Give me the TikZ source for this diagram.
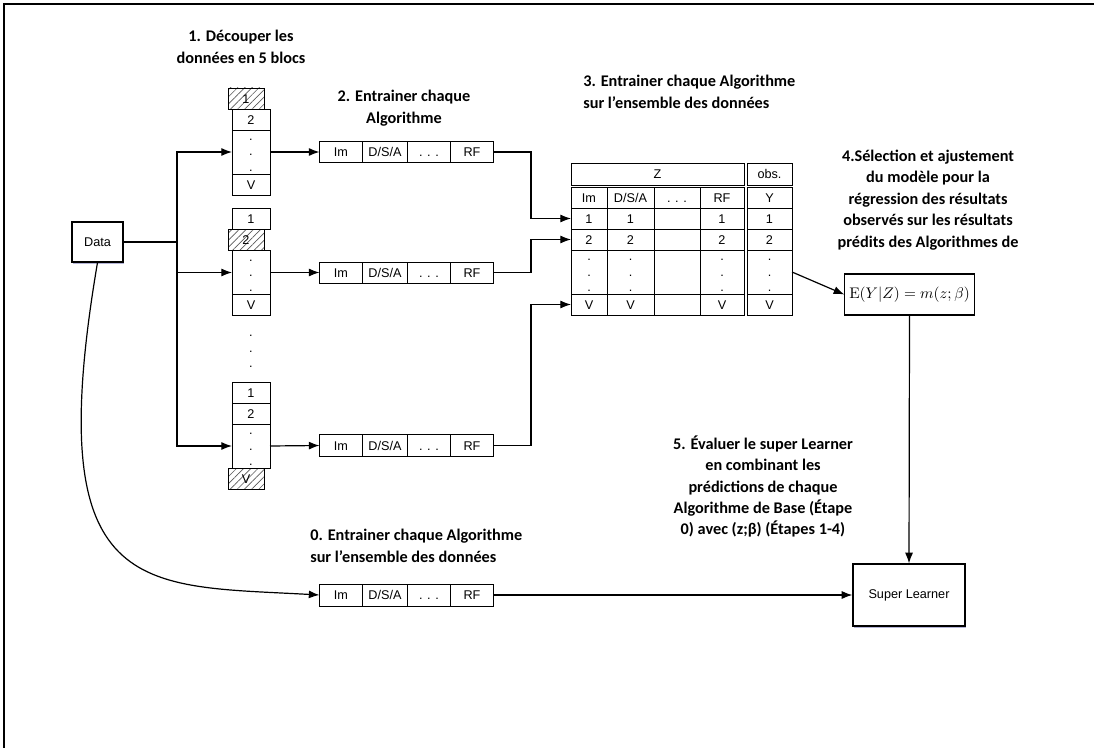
\RequirePackage{fix-cm}
\documentclass[tikz,border=0pt]{standalone}
\usepackage[no-math]{fontspec}
\setmainfont{Carlito}
\newfontfamily\helv{Liberation Sans}
\usetikzlibrary{arrows.meta,positioning,patterns.meta,shadows}

\newcommand\pxu{0.75pt}
\newcommand\cellfont{\helv\fontsize{9.5}{11.4}\selectfont}
\newcommand\vpts{.\\.\\.}

\tikzset{
  cell/.style={draw, line width=0.7pt, inner sep=0pt, outer sep=0pt,
    minimum height=21*\pxu, font=\cellfont, text height=6.8pt, text depth=0pt},
  dotcell/.style={cell, minimum height=44*\pxu, align=center, text height=28.8pt},
  blkplain/.style={cell, minimum width=38*\pxu},
  blkhatch/.style={cell, minimum width=36*\pxu, xshift=-5*\pxu,
    pattern={Lines[angle=45,distance=3.8pt,line width=0.5pt]}, pattern color=black!65},
  step label/.style={font=\bfseries\fontsize{12.2}{16.1}\selectfont, align=center, inner sep=0pt},
  mainbox/.style={draw, line width=0.9pt, fill=white, font=\cellfont,
    drop shadow={shadow xshift=0.6pt, shadow yshift=-1.2pt, opacity=0.45, fill=blue!30!gray}},
  link/.style={line width=0.9pt}
}

\begin{document}
\begin{tikzpicture}[>={Latex[length=8pt,width=6pt]}, x=\pxu, y=-\pxu]
  \useasboundingbox (0,0) rectangle (1094,748);
  % Cadre
  \draw[line width=1.5pt] (4,748) -- (4,4) -- (1094,4);
  % Etiquettes des etapes
  \node[step label] (lbl1) at (241,47) {1. Découper les\\données en 5 blocs};
  \node[step label] (lbl2) at (404,108) {2. Entrainer chaque\\Algorithme};
  \node[step label, anchor=west, align=left] (lbl3) at (583,92) {3. Entrainer chaque Algorithme\\sur l’ensemble des données};
  \node[step label] (lbl4) at (928,200) {4.Sélection et ajustement\\du modèle pour la\\régression des résultats\\observés sur les résultats\\prédits des Algorithmes de};
  \node[step label] (lbl5) at (763,486.5) {5. Évaluer le super Learner\\en combinant les\\prédictions de chaque\\Algorithme de Base (Étape\\0) avec (z;β) (Étapes 1-4)};
  \node[step label, anchor=west, align=left] (lbl0) at (310,546) {0. Entrainer chaque Algorithme\\sur l’ensemble des données};
  % Data et Super Learner
  \node[mainbox, minimum width=51*\pxu, minimum height=40*\pxu] (data) at (97.5,242) {Data};
  \node[mainbox, minimum width=112*\pxu, minimum height=62*\pxu] (sl) at (909,595) {Super Learner};
  \node[draw, line width=0.8pt, minimum width=125*\pxu, minimum height=41*\pxu,
    font=\fontsize{11.5}{14}\selectfont] (formula) at (909.5,294.5) {$\mathrm{E}(Y|Z) = m(z;\beta)$};
  % Blocs de donnees
  \foreach \n/\y/\sa/\sb/\sv in {1/152/blkhatch/blkplain/blkplain,
      2/272.5/blkplain/blkhatch/blkplain, 3/446/blkplain/blkplain/blkhatch} {
    \node[\sa] (s\n-1) at (251,\y-53.5) {1};
    \node[\sb] (s\n-2) at (251,\y-32.5) {2};
    \node[blkplain, dotcell] (s\n-d) at (251,\y) {\vpts};
    \node[\sv] (s\n-v) at (251,\y+32.5) {V};
  }
  \node[font=\cellfont, align=center, text height=28.8pt, text depth=0pt, inner sep=0pt] (vdots) at (251,348) {\vpts};
  % Algorithmes
  \foreach \n/\y/\h in {1/152/21, 2/272.5/21, 3/445.5/22, 0/595/22} {
    \node[cell, minimum height=\h*\pxu, minimum width=43*\pxu, anchor=west] (a\n-im) at (319.5,\y) {Im};
    \node[cell, minimum height=\h*\pxu, minimum width=45*\pxu, right=0pt of a\n-im] (a\n-dsa) {D/S/A};
    \node[cell, minimum height=\h*\pxu, minimum width=43*\pxu, right=0pt of a\n-dsa] (a\n-dots) {. . .};
    \node[cell, minimum height=\h*\pxu, minimum width=43*\pxu, right=0pt of a\n-dots] (a\n-rf) {RF};
  }
  % Tableau Z
  \node[cell, minimum width=173*\pxu, minimum height=22*\pxu] (z-head) at (657.5,174) {Z};
  \node[cell, minimum width=45*\pxu, minimum height=22*\pxu] (obs-head) at (769.5,174) {obs.};
  \node[cell, minimum width=36*\pxu] (th-im) at (589,197.5) {Im};
  \node[cell, minimum width=47*\pxu] (th-dsa) at (630.5,197.5) {D/S/A};
  \node[cell, minimum width=46*\pxu] (th-dots) at (677,197.5) {. . .};
  \node[cell, minimum width=44*\pxu] (th-rf) at (722,197.5) {RF};
  \node[cell, minimum width=45*\pxu] (th-obs) at (769.5,197.5) {Y};
  \foreach \n/\y/\v in {1/218.5/1, 2/239.5/2, v/304.5/V} {
    \node[cell, minimum width=36*\pxu] (t\n-im) at (589,\y) {\v};
    \node[cell, minimum width=47*\pxu] (t\n-dsa) at (630.5,\y) {\v};
    \node[cell, minimum width=46*\pxu] (t\n-dots) at (677,\y) {};
    \node[cell, minimum width=44*\pxu] (t\n-rf) at (722,\y) {\v};
    \node[cell, minimum width=45*\pxu] (t\n-obs) at (769.5,\y) {\v};
  }
  \node[dotcell, minimum width=36*\pxu] (td-im) at (589,272) {\vpts};
  \node[dotcell, minimum width=47*\pxu] (td-dsa) at (630.5,272) {\vpts};
  \node[dotcell, minimum width=46*\pxu] (td-dots) at (677,272) {};
  \node[dotcell, minimum width=44*\pxu] (td-rf) at (722,272) {\vpts};
  \node[dotcell, minimum width=45*\pxu] (td-obs) at (769.5,272) {\vpts};
  % Liens
  \coordinate (split) at (177,242);
  \draw[link] (data.east) -- (split);
  \foreach \n in {1,2,3} \draw[link,->] (split) |- (s\n-d.west);
  \foreach \n in {1,2,3} \draw[link,->] (s\n-d.east) -- (a\n-im.west);
  \foreach \n/\tg in {1/t1, 2/t2, 3/tv} \draw[link,->] (a\n-rf.east) -- ++(37.5,0) |- (\tg-im.west);
  \draw[link,->] (td-obs.east) -- (formula.west);
  \draw[link,->] (formula.south) -- (sl.north);
  \draw[link,->] (data.south) .. controls (40,600) and (140,585) .. (a0-im.west);
  \draw[link,->] (a0-rf.east) -- (sl.west);
\end{tikzpicture}
\end{document}
